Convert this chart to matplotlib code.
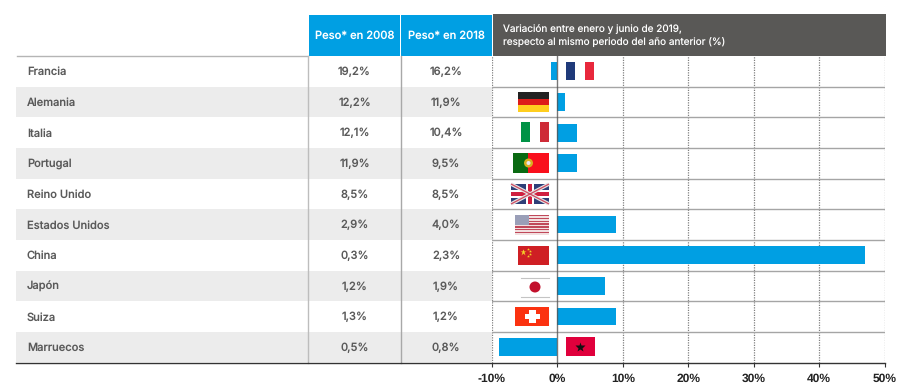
import matplotlib
matplotlib.use("Agg")
import matplotlib.pyplot as plt
from matplotlib.patches import Rectangle, Circle

plt.rcParams["text.hinting"] = "no_hinting"
plt.rcParams["text.hinting_factor"] = 1

countries = ["Francia", "Alemania", "Italia", "Portugal", "Reino Unido",
             "Estados Unidos", "China", "Japón", "Suiza", "Marruecos"]
peso_2008 = ["19,2%", "12,2%", "12,1%", "11,9%", "8,5%", "2,9%", "0,3%", "1,2%", "1,3%", "0,5%"]
peso_2018 = ["16,2%", "11,9%", "10,4%", "9,5%", "8,5%", "4,0%", "2,3%", "1,9%", "1,2%", "0,8%"]
variacion = [-1.0, 1.2, 3.0, 3.0, 0.0, 9.0, 47.0, 7.2, 9.0, -9.0]
x_ticks = [-10, 0, 10, 20, 30, 40, 50]
x_labels = ["-10%", "0%", "10%", "20%", "30%", "40%", "50%"]

BLUE = "#009fe3"
DARK = "#595856"
TXT = "#5a5a5a"
W, H = 900, 383
TOP, BOT = 56, 362.5
ROW = (BOT - TOP) / 10
L0, L1 = 492, 884.5

fig = plt.figure(figsize=(9, 3.83), dpi=100)

# table background, pixel coordinates
bg = fig.add_axes([0, 0, 1, 1])
bg.set_xlim(0, W)
bg.set_ylim(H, 0)
bg.axis("off")

for i, c in enumerate(countries):
    y = TOP + ROW * i
    if i % 2 == 1:
        bg.add_patch(Rectangle((16, y), L0 - 16, ROW, fc="#ececec", ec="none"))
    cy = y + ROW / 2 + 0.8
    bg.text(27, cy, c, family="Inter", fontsize=8, fontweight="medium", color=TXT, va="center")
    bg.text(354.5, cy, peso_2008[i], family="Inter", fontsize=8, fontweight="medium", color=TXT, va="center", ha="center")
    bg.text(446, cy, peso_2018[i], family="Inter", fontsize=8, fontweight="medium", color=TXT, va="center", ha="center")

bg.add_patch(Rectangle((309, 14.5), 91, TOP - 14.5, fc=BLUE, ec="none"))
bg.add_patch(Rectangle((401, 14.5), 91, TOP - 14.5, fc=BLUE, ec="none"))
bg.add_patch(Rectangle((L0 + 0.5, 14), L1 + 0.5 - L0, TOP - 14, fc=DARK, ec="none"))
bg.text(355, 35.5, "Peso* en 2008", family="Inter", fontsize=8, fontweight="medium", color="white", ha="center", va="center")
bg.text(446.5, 35.5, "Peso* en 2018", family="Inter", fontsize=8, fontweight="medium", color="white", ha="center", va="center")
bg.text(503, 29, "Variación entre enero y junio de 2019,", family="Inter", fontsize=7.2, color="white", va="center")
bg.text(503, 43, "respecto al mismo periodo del año anterior (%)", family="Inter", fontsize=7.2, color="white", va="center")

bg.plot([17, 308], [56, 56], color="#b5b5b5", lw=1)
bg.plot([308, 308], [56, BOT], color="#bdbdbd", lw=1)
bg.plot([400.5, 400.5], [56, BOT], color="#a8a8a8", lw=1)

# bars
ax = fig.add_axes([L0 / W, 1 - BOT / H, (L1 - L0) / W, (BOT - TOP) / H])
ax.patch.set_alpha(0)
ax.barh(range(len(variacion)), variacion, height=0.58, color=BLUE, zorder=2)
ax.set_xlim(x_ticks[0], x_ticks[-1])
ax.set_ylim(len(variacion) - 0.5, -0.5)
ax.set_yticks([])
ax.set_xticks(x_ticks)
ax.set_xticklabels(x_labels, family="Liberation Sans", fontweight="bold", fontsize=8.8, color="#222222")
ax.tick_params(axis="x", length=3, width=0.8, color="#333333", pad=4.5)
for t in x_ticks:
    if t == 0:
        ax.axvline(t, color="#555555", lw=1, alpha=0.8, zorder=3)
    else:
        ax.axvline(t, color="#808080", lw=0.9, ls=(0, (1, 1)), zorder=1)
for i in range(1, len(variacion)):
    ax.axhline(i - 0.5, color="#a5a5a5", lw=1, zorder=1)
for s in ["top", "left", "right", "bottom"]:
    ax.spines[s].set_visible(False)

# flags on top, pixel coordinates
fl = fig.add_axes([0, 0, 1, 1])
fl.set_xlim(0, W)
fl.set_ylim(H, 0)
fl.axis("off")
fl.patch.set_alpha(0)
fl.plot([16, L1], [BOT, BOT], color="#333333", lw=1)


def rect(x0, y0, x1, y1, col):
    fl.add_patch(Rectangle((x0, y0), x1 - x0, y1 - y0, fc=col, ec="none"))


# Francia
rect(566, 62, 575, 80, "#1f3a7a")
rect(585, 62, 594, 80, "#e8283c")
# Alemania
rect(518, 92, 549, 99, "#222222")
rect(518, 99, 549, 105, "#dd1c1a")
rect(518, 105, 549, 112, "#ffce1f")
# Italia
rect(521, 122, 530, 142, "#009246")
rect(540, 122, 549, 142, "#ce2b37")
# Portugal
rect(513, 153, 528, 173, "#0a6a12")
rect(528, 153, 549, 173, "#f9101c")
fl.add_patch(Circle((528.5, 163), 4.5, fc="#d9b020", ec="none"))
fl.add_patch(Circle((528.5, 163), 2, fc="#e8e8f0", ec="none"))
# Reino Unido
rect(511, 184, 549, 204, "#2f3f78")
fl.plot([511, 549], [184, 204], color="#e4e4e4", lw=2.6, solid_capstyle="butt")
fl.plot([511, 549], [204, 184], color="#e4e4e4", lw=2.6, solid_capstyle="butt")
fl.plot([511, 549], [184, 204], color="#cf4a60", lw=0.9, solid_capstyle="butt")
fl.plot([511, 549], [204, 184], color="#cf4a60", lw=0.9, solid_capstyle="butt")
rect(526, 184, 534, 204, "#ffffff")
rect(511, 190, 549, 198, "#ffffff")
rect(528, 184, 532, 204, "#d02040")
rect(511, 192, 549, 196, "#d02040")
# Estados Unidos
for j in range(7):
    rect(515, 215 + j * 2.8, 549, 216.4 + j * 2.8, "#c0485a")
    rect(515, 216.4 + j * 2.8, 549, 217.8 + j * 2.8, "#f2dfdf")
rect(515, 215, 529, 225, "#9a9fb8")
# China
rect(518, 246, 549, 265, "#cf1f24")
fl.plot([523], [251.5], marker="*", ms=5, color="#f5d328", mec="none")
for px, py in [(527.5, 248.5), (529.5, 251), (529.5, 254), (527.5, 256)]:
    fl.plot([px], [py], marker="*", ms=2.2, color="#f5d328", mec="none")
# Japón
fl.plot([521, 549], [277.5, 277.5], color="#c4c4c4", lw=0.8)
fl.plot([521, 549], [296.5, 296.5], color="#c4c4c4", lw=0.8)
fl.add_patch(Circle((535, 287), 5.5, fc="#c2102c", ec="none"))
# Suiza
rect(515, 307, 549, 326, "#fb3210")
rect(529, 310, 535.5, 323, "#ffffff")
rect(524.5, 314, 540, 319, "#ffffff")
# Marruecos
rect(566, 337, 594.5, 356, "#e0003c")
fl.plot([580], [347], marker="*", ms=7, color="#111111", mec="none")

fig.savefig("out.png", dpi=100)
